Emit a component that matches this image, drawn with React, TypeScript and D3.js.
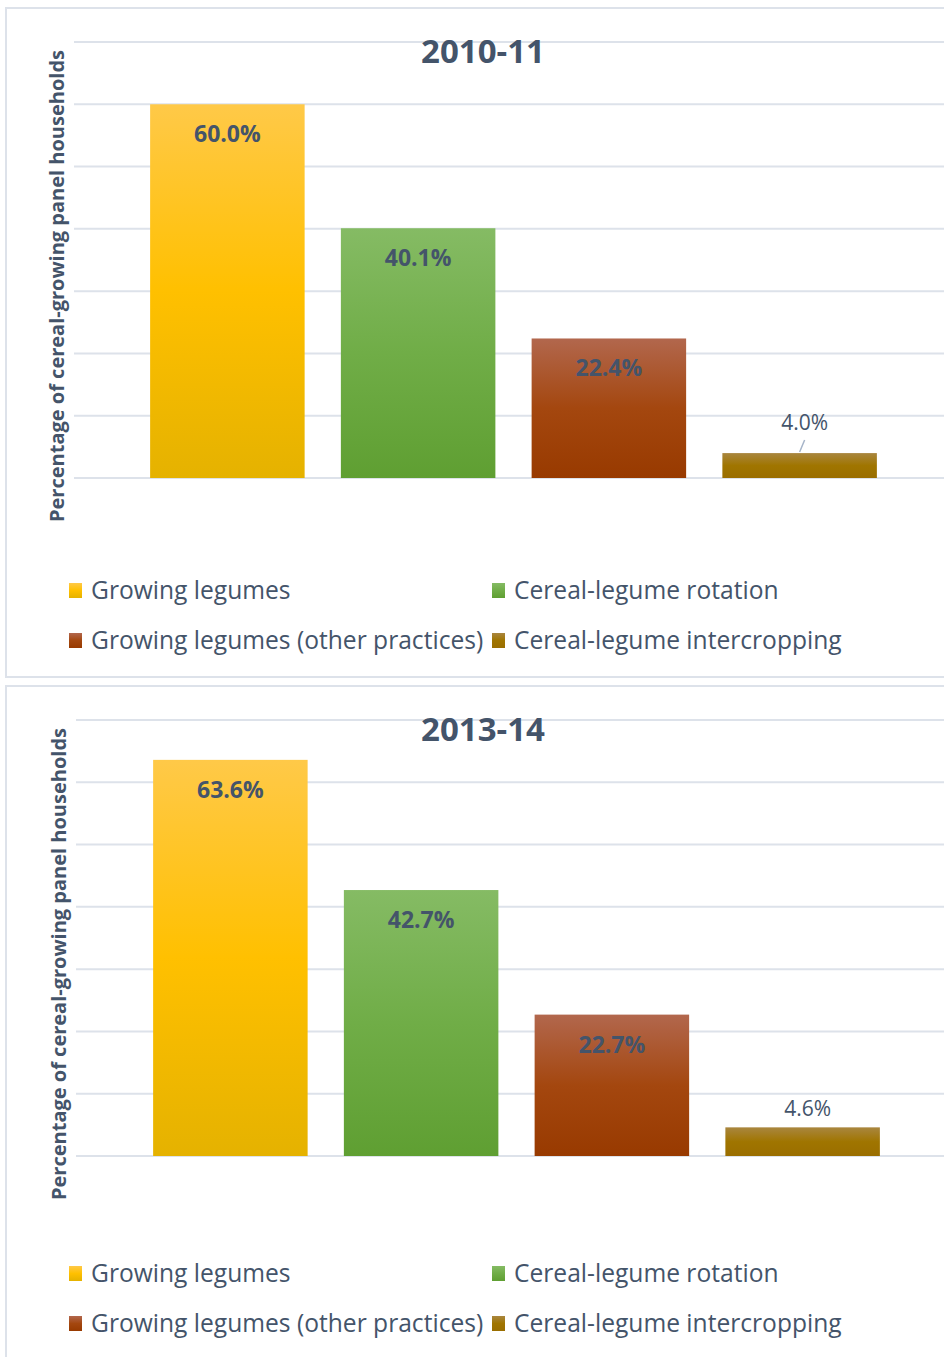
import React, { useEffect, useRef } from 'react'
import * as d3 from 'd3'

const categories = [
  'Growing legumes',
  'Cereal-legume rotation',
  'Growing legumes (other practices)',
  'Cereal-legume intercropping',
]
const years = ['2010-11', '2013-14']
const values2010 = [60.0, 40.1, 22.4, 4.0]
const values2013 = [63.6, 42.7, 22.7, 4.6]
const yTicks = [0, 10, 20, 30, 40, 50, 60, 70]
const yTitle = 'Percentage of cereal-growing panel households'

// top / mid / bottom of each bar's gradient
const colors = [
  ['#ffc948', '#ffc000', '#e5b200'],
  ['#85bb64', '#70ad47', '#5f9f32'],
  ['#b2674d', '#a4470f', '#983a00'],
  ['#a9863f', '#a07500', '#9a6e00'],
]

const TEXT = '#44546a'
const GRID = '#dde2ea'
const FONT = '"Open Sans", sans-serif'

type PanelCfg = {
  year: string
  values: number[]
  frameTop: number
  frameBottom: number
  gridTop: number
  base: number
  gridLeft: number
  barShift: number
  outLabelGap: number
  leader: boolean
  legendY: number
}

const panels: PanelCfg[] = [
  { year: years[0], values: values2010, frameTop: 8, frameBottom: 677, gridTop: 42, base: 478, gridLeft: 74, barShift: 0, outLabelGap: 23, leader: true, legendY: 590 },
  { year: years[1], values: values2013, frameTop: 686, frameBottom: 1370, gridTop: 720, base: 1156, gridLeft: 76, barShift: 3, outLabelGap: 11, leader: false, legendY: 1273 },
]

const App = () => {
  const svgRef = useRef<SVGSVGElement>(null)

  useEffect(() => {
    const svg = d3.select(svgRef.current)
    svg.selectAll('*').remove()

    const defs = svg.append('defs')
    colors.forEach((c, i) => {
      const g = defs
        .append('linearGradient')
        .attr('id', 'grad' + i)
        .attr('x1', 0)
        .attr('y1', 0)
        .attr('x2', 0)
        .attr('y2', 1)
      g.append('stop').attr('offset', '0%').attr('stop-color', c[0])
      g.append('stop').attr('offset', '50%').attr('stop-color', c[1])
      g.append('stop').attr('offset', '100%').attr('stop-color', c[2])
    })

    panels.forEach((p, pi) => {
      const chart = svg.append('g')

      // frame
      chart
        .append('rect')
        .attr('x', 6)
        .attr('y', p.frameTop)
        .attr('width', 960)
        .attr('height', p.frameBottom - p.frameTop)
        .attr('fill', '#fff')
        .attr('stroke', GRID)
        .attr('stroke-width', 2)

      const yScale = d3.scaleLinear().domain([0, 70]).range([p.base, p.gridTop])
      const xScale = d3
        .scaleBand()
        .domain(categories)
        .range([132 + p.barShift, 895 + p.barShift])
        .paddingInner(0.19)
        .paddingOuter(0.095)

      chart
        .selectAll('.grid')
        .data(yTicks)
        .enter()
        .append('line')
        .attr('x1', p.gridLeft)
        .attr('x2', 944)
        .attr('y1', d => yScale(d))
        .attr('y2', d => yScale(d))
        .attr('stroke', GRID)
        .attr('stroke-width', 2)

      chart
        .selectAll('.bar')
        .data(p.values)
        .enter()
        .append('rect')
        .attr('x', (d, i) => xScale(categories[i]))
        .attr('width', xScale.bandwidth())
        .attr('y', d => yScale(d))
        .attr('height', d => yScale(0) - yScale(d))
        .attr('fill', (d, i) => `url(#grad${i})`)

      // data labels
      p.values.forEach((v, i) => {
        const cx = xScale(categories[i]) + xScale.bandwidth() / 2
        const inside = v > 10
        if (inside) {
          chart
            .append('text')
            .attr('x', cx)
            .attr('y', yScale(v) + 38)
            .attr('text-anchor', 'middle')
            .attr('font-family', FONT)
            .attr('font-weight', 700)
            .attr('font-size', 23)
            .attr('fill', TEXT)
            .text(v.toFixed(1) + '%')
        } else {
          chart
            .append('text')
            .attr('x', cx + 5)
            .attr('y', yScale(v) - p.outLabelGap)
            .attr('text-anchor', 'middle')
            .attr('font-family', FONT)
            .attr('font-size', 21)
            .attr('fill', TEXT)
            .text(v.toFixed(1) + '%')
          if (p.leader) {
            chart
              .append('line')
              .attr('x1', cx)
              .attr('y1', yScale(v) - 1)
              .attr('x2', cx + 5)
              .attr('y2', yScale(v) - 13)
              .attr('stroke', '#a6b4c8')
              .attr('stroke-width', 1.5)
          }
        }
      })

      // title
      chart
        .append('text')
        .attr('x', 483)
        .attr('y', p.gridTop + 21)
        .attr('text-anchor', 'middle')
        .attr('font-family', FONT)
        .attr('font-weight', 700)
        .attr('font-size', 33)
        .attr('fill', TEXT)
        .text(p.year)

      // y axis title
      chart
        .append('text')
        .attr('transform', `translate(${64 + pi * 2}, ${(p.gridTop + p.base) / 2 + 26}) rotate(-90)`)
        .attr('text-anchor', 'middle')
        .attr('font-family', FONT)
        .attr('font-weight', 700)
        .attr('font-size', 20)
        .attr('fill', TEXT)
        .text(yTitle)

      // legend
      const legend = chart
        .selectAll('.leg')
        .data(categories)
        .enter()
        .append('g')
        .attr('transform', (d, i) => `translate(${i % 2 === 0 ? 69 : 492}, ${p.legendY + Math.floor(i / 2) * 50})`)
      legend
        .append('rect')
        .attr('x', 0)
        .attr('y', -7)
        .attr('width', 13)
        .attr('height', 15)
        .attr('fill', (d, i) => `url(#grad${i})`)
      legend
        .append('text')
        .attr('x', 22)
        .attr('y', 9)
        .attr('font-family', FONT)
        .attr('font-size', 24.6)
        .attr('fill', TEXT)
        .text(d => d)
    })
  }, [])

  return (
    <svg
      ref={svgRef}
      width={944}
      height={1357}
      style={{ position: 'absolute', left: 0, top: 0, background: '#fff' }}
    />
  )
}

export default App
